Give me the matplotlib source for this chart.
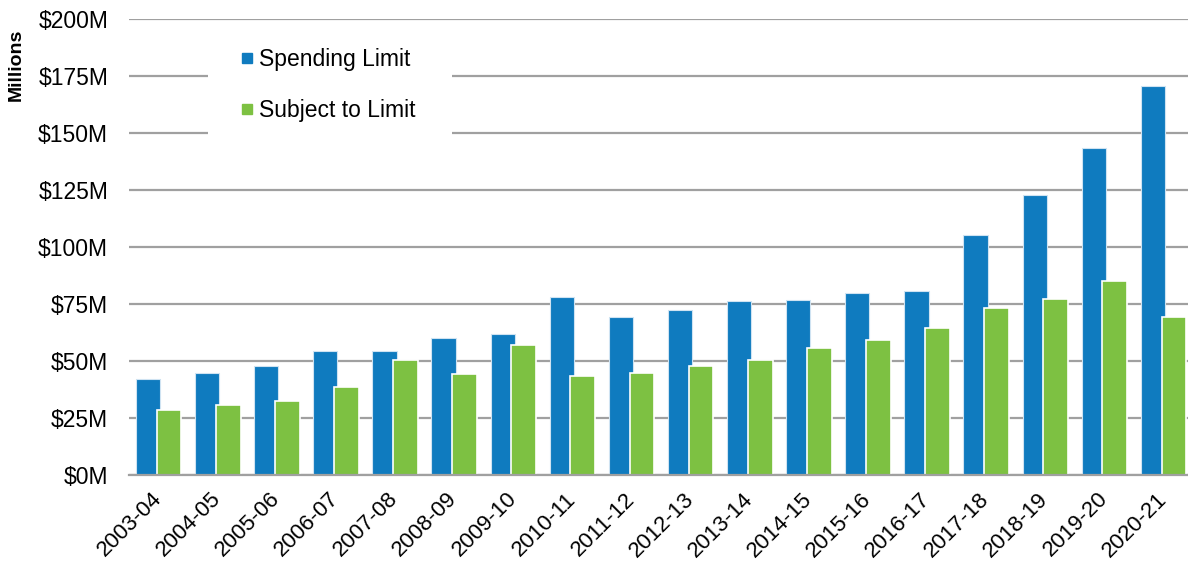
import matplotlib
matplotlib.use("Agg")
import matplotlib.pyplot as plt
import numpy as np
from matplotlib.patches import Rectangle
from matplotlib.lines import Line2D

plt.rcParams['font.family'] = ['Liberation Sans', 'DejaVu Sans']

categories = ["2003-04", "2004-05", "2005-06", "2006-07", "2007-08", "2008-09",
              "2009-10", "2010-11", "2011-12", "2012-13", "2013-14", "2014-15",
              "2015-16", "2016-17", "2017-18", "2018-19", "2019-20", "2020-21"]
spending_limit = [42.2, 44.6, 47.7, 54.6, 54.6, 60.2, 61.9, 78.0, 69.4, 72.5,
                  76.1, 76.8, 79.9, 80.5, 105.2, 123.0, 143.3, 170.5]
subject_to_limit = [28.7, 30.6, 32.4, 38.7, 50.4, 44.1, 57.2, 43.6, 44.8, 47.9,
                    50.4, 55.9, 59.0, 64.6, 73.2, 77.4, 84.9, 69.5]
yticks = [0, 25, 50, 75, 100, 125, 150, 175, 200]
ytick_labels = ["$0M", "$25M", "$50M", "$75M", "$100M", "$125M", "$150M", "$175M", "$200M"]

blue = "#0F7BBF"
green = "#7DC142"
grid_c = "#A0A0A0"

W, H = 1188, 567
fig = plt.figure(figsize=(W / 100, H / 100), dpi=100)
ax_left, ax_right = 129, 1193
ax_top, ax_bottom = 19, 475
ax = fig.add_axes([ax_left / W, 1 - ax_bottom / H, (ax_right - ax_left) / W, (ax_bottom - ax_top) / H])

x = np.arange(len(categories))
ax.bar(x - 0.178, spending_limit, width=0.41, color=blue, edgecolor="#CFE3F2",
       linewidth=0.8, zorder=3, label="Spending Limit")
ax.bar(x + 0.178, subject_to_limit, width=0.42, color=green, edgecolor="white",
       linewidth=1.2, zorder=4, label="Subject to Limit")

ax.set_xlim(-0.5, len(categories) - 0.5)
ax.set_ylim(0, 200)
ax.set_yticks(yticks)
ax.set_yticklabels(ytick_labels, fontsize=16.5)
ax.yaxis.grid(True, color=grid_c, linewidth=1.6, zorder=0)
ax.set_axisbelow(True)
ax.tick_params(axis='y', length=0, pad=15)
ax.tick_params(axis='x', length=0, pad=15)
ax.set_xticks(x)
ax.set_xticklabels(categories, rotation=45, ha='right', va='center',
                   rotation_mode='anchor', fontsize=16)
for side in ['left', 'right', 'top']:
    ax.spines[side].set_visible(False)
ax.spines['bottom'].set_color(grid_c)
ax.spines['bottom'].set_linewidth(1.6)
ax.spines['bottom'].set_zorder(5)

# legend background box covering grid lines
fig.patches.append(Rectangle((208 / W, 1 - 165 / H), (452 - 208) / W, (165 - 30) / H,
                             transform=fig.transFigure, facecolor='white',
                             edgecolor='none', zorder=2))
handles = [Line2D([], [], marker='s', linestyle='none', markersize=7,
                  markerfacecolor=blue, markeredgecolor=blue),
           Line2D([], [], marker='s', linestyle='none', markersize=7,
                  markerfacecolor=green, markeredgecolor=green)]
leg = fig.legend(handles, ["Spending Limit", "Subject to Limit"],
                 loc='upper left', bbox_to_anchor=(229 / W, 1 - 37 / H),
                 frameon=False, fontsize=16.5, handlelength=0.6,
                 handletextpad=0.2, labelspacing=1.2, borderpad=0)

fig.text(16.5 / W, 1 - 65 / H, "Millions", rotation=90, fontsize=14,
         fontweight='bold', ha='center', va='center')

fig.savefig("out.png", dpi=100, facecolor='white')
